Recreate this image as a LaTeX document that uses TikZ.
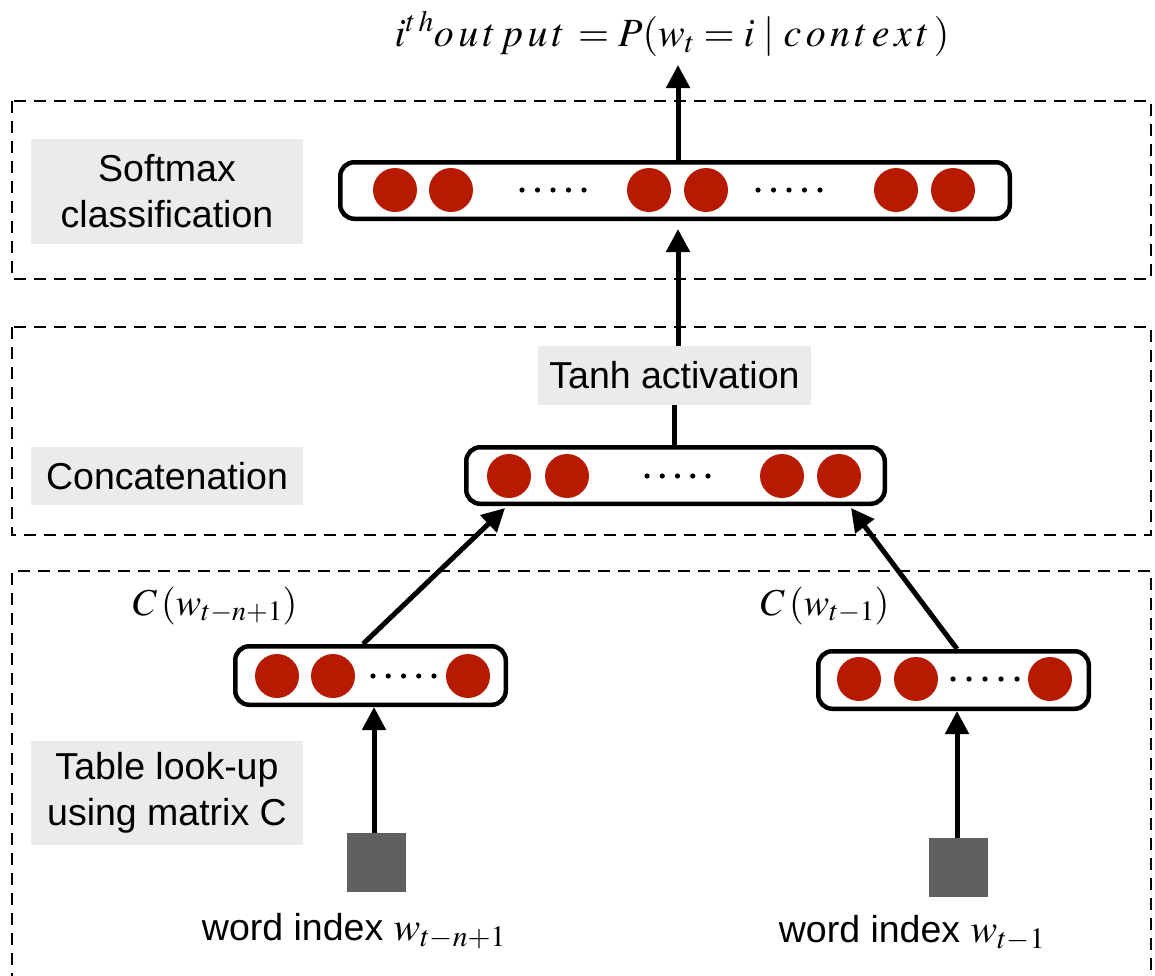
\documentclass[tikz,border=0pt]{standalone}
\usepackage{mathptmx}
\usepackage{fontspec}
\setmainfont{Liberation Sans}
\usetikzlibrary{arrows.meta}
\definecolor{labgray}{HTML}{EBEBEB}
\definecolor{unitred}{HTML}{B71A00}
\definecolor{sqgray}{HTML}{606060}
\tikzset{
  layerbox/.style={draw=black, line width=2.4pt, dash pattern=on 12pt off 8pt},
  lab/.style={fill=labgray, inner sep=0pt, align=center, font=\fontsize{37.5}{46}\selectfont},
  vecbox/.style={draw=black, line width=4.5pt, rounded corners=14pt, inner sep=0pt},
  unit/.style={fill=unitred},
  dotfill/.style={fill=black},
  conn/.style={draw=black, line width=5pt},
  arr/.style={conn, -{Triangle[length=23pt,width=23pt]}},
  sq/.style={fill=sqgray, inner sep=0pt, minimum size=59pt},
  mlab/.style={anchor=base, inner sep=0pt, font=\fontsize{38}{42}\selectfont},
  wlab/.style={anchor=base, inner sep=0pt, font=\fontsize{37.5}{42}\selectfont},
}
\newcommand{\wmathlab}[1]{{\fontsize{40}{44}\selectfont$#1$}}
\begin{document}
\begin{tikzpicture}[x=1pt,y=-1pt]
\useasboundingbox (0,0) rectangle (1155,975);
% layer boxes
\draw[layerbox] (12,101) rectangle (1151,279);
\draw[layerbox] (12,327) rectangle (1151,535);
\draw[layerbox] (12,985) -- (12,571) -- (1151,571) -- (1151,985);
% labels
\node[lab, minimum width=272pt, minimum height=105pt] (lsoft) at (167,191.5) {Softmax\\classification};
\node[lab, minimum width=272pt, minimum height=58pt] (lconc) at (167,476) {Concatenation};
\node[lab, minimum width=272pt, minimum height=104pt] (ltab) at (167,793) {Table look-up\\using matrix C};
\node[lab, minimum width=273pt, minimum height=59pt] (tanh) at (674.5,375.5) {Tanh activation};
% vector boxes
\node[vecbox, minimum width=669.5pt, minimum height=56.5pt] (sm) at (675,190.5) {};
\node[vecbox, minimum width=418.5pt, minimum height=56.5pt] (cv) at (675.5,475.5) {};
\node[vecbox, minimum width=270.5pt, minimum height=58.5pt] (lv) at (370.5,675.5) {};
\node[vecbox, minimum width=270.5pt, minimum height=57.5pt] (rv) at (953.5,680) {};
% units
\foreach \x in {395,451,649,706,896,953} \fill[unit] (\x,190) circle (22);
\foreach \x in {522,537.5,553,568.5,584, 758,773.5,789,804.5,820} \fill[dotfill] (\x,190) circle (2.6);
\foreach \x in {509,567,782,839} \fill[unit] (\x,476) circle (22);
\foreach \x in {647,662.25,677.5,692.75,708} \fill[dotfill] (\x,476) circle (2.6);
\foreach \x in {277,333,468} \fill[unit] (\x,676) circle (22);
\foreach \x in {373,388.25,403.5,418.75,434} \fill[dotfill] (\x,676) circle (2.6);
\foreach \x in {859,916,1050} \fill[unit] (\x,679) circle (22);
\foreach \x in {953,969,985,1001,1017} \fill[dotfill] (\x,679) circle (2.6);
% squares
\node[sq] (lsq) at (376.5,862.5) {};
\node[sq] (rsq) at (958.5,867.5) {};
% texts
\node[anchor=base, inner sep=0pt, font=\fontsize{40}{44}\selectfont] (title) at (672,46)
  {$i^{t\,h}o\,u\,t\,p\,u\,t\, = P(w_t = i \mid c\,o\,n\,t\,e\,x\,t\,)$};
\node[mlab] (lc) at (215,615) {$C\,(w_{t-n+1})$};
\node[mlab] (rc) at (825,615) {$C\,(w_{t-1})$};
\node[wlab] (lw) at (354,940) {word index \wmathlab{w_{t-n+1}}};
\node[wlab] (rw) at (912,942) {word index \wmathlab{w_{t-1}}};
% connectors
\coordinate (outtip) at (678,65);
\coordinate (smtip) at (678,229);
\draw[arr] (sm.north -| outtip) -- (outtip);
\draw[arr] (tanh.north -| smtip) -- (smtip);
\draw[conn] (cv.north -| tanh.south) -- (tanh.south);
\draw[arr] ([xshift=-7.5pt]lv.north) -- ([xshift=-170.5pt,yshift=-2pt]cv.south);
\draw[arr] ([xshift=3.5pt]rv.north) -- ([xshift=175.5pt,yshift=-2pt]cv.south);
\draw[arr] ([xshift=-2.5pt]lsq.north) -- ([xshift=-2.5pt]lsq.north |- lv.south);
\draw[arr] ([xshift=-1.5pt]rsq.north) -- ([xshift=-1.5pt]rsq.north |- rv.south);
\end{tikzpicture}
\end{document}
